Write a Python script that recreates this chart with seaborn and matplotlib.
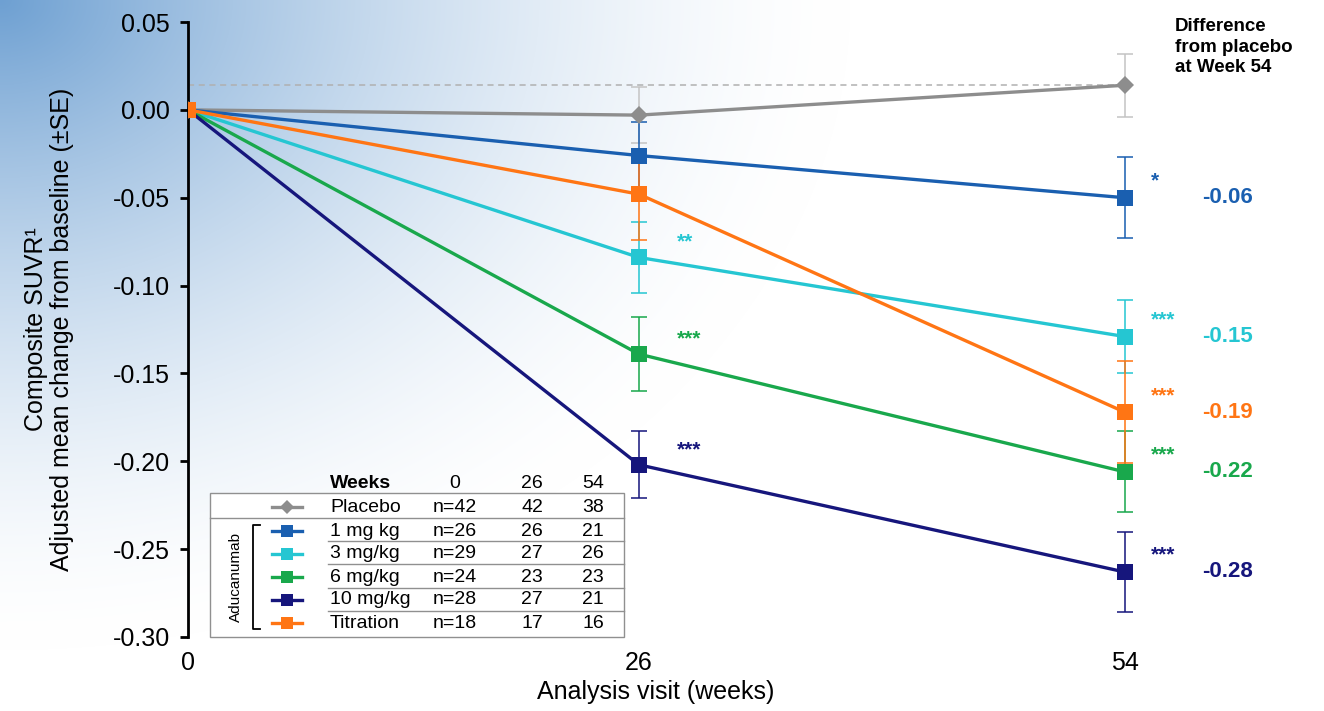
import numpy as np
import pandas as pd
import matplotlib
matplotlib.use("Agg")
import matplotlib.pyplot as plt
import seaborn as sns
from matplotlib.lines import Line2D
from matplotlib.patches import Rectangle

# ---------------- data ----------------
weeks = [0, 26, 54]
groups = ["Placebo", "1 mg kg", "3 mg/kg", "6 mg/kg", "10 mg/kg", "Titration"]
mean_placebo = [0.0, -0.003, 0.014]
mean_1mg = [0.0, -0.026, -0.050]
mean_3mg = [0.0, -0.084, -0.129]
mean_6mg = [0.0, -0.139, -0.206]
mean_10mg = [0.0, -0.202, -0.263]
mean_titr = [0.0, -0.048, -0.172]
se_placebo = [0.0, 0.016, 0.018]
se_1mg = [0.0, 0.019, 0.023]
se_3mg = [0.0, 0.020, 0.021]
se_6mg = [0.0, 0.021, 0.023]
se_10mg = [0.0, 0.019, 0.023]
se_titr = [0.0, 0.026, 0.029]
stars_26 = ["", "", "**", "***", "***", ""]
stars_54 = ["", "*", "***", "***", "***", "***"]
diff_54 = ["", "-0.06", "-0.15", "-0.22", "-0.28", "-0.19"]
n_week0 = ["n=42", "n=26", "n=29", "n=24", "n=28", "n=18"]
n_week26 = ["42", "26", "27", "23", "27", "17"]
n_week54 = ["38", "21", "26", "23", "21", "16"]
yticks = [0.05, 0.00, -0.05, -0.10, -0.15, -0.20, -0.25, -0.30]

means = [mean_placebo, mean_1mg, mean_3mg, mean_6mg, mean_10mg, mean_titr]
ses = [se_placebo, se_1mg, se_3mg, se_6mg, se_10mg, se_titr]
colors = ["#8d8d8d", "#1a5fb0", "#25c6d2", "#19a84c", "#16167c", "#ff7514"]
markers = ["D", "s", "s", "s", "s", "s"]

rows = []
for g, m, s in zip(groups, means, ses):
    for w, mv, sv in zip(weeks, m, s):
        rows.append({"group": g, "week": w, "mean": mv, "se": sv})
df = pd.DataFrame(rows)

# ---------------- figure ----------------
W, H = 1324, 711
fig = plt.figure(figsize=(W / 100, H / 100), dpi=100)
plt.rcParams["font.family"] = ["Liberation Sans", "DejaVu Sans"]

def P(x, y):
    return (x / W, 1 - y / H)

# background gradient (top-left corner)
bg = fig.add_axes([0, 0, 1, 1], zorder=-10)
yy, xx = np.mgrid[0:H, 0:W]
r = np.sqrt((xx / 850.0) ** 2 + (yy / 650.0) ** 2)
a = np.clip(1 - r, 0, 1) ** 1.6
base = np.array([110, 160, 210]) / 255.0
img = np.ones((H, W, 3)) * (1 - a[..., None]) + base * a[..., None]
bg.imshow(img, aspect="auto", extent=[0, W, H, 0])
bg.axis("off")

x0, x1 = 188, 1194
ax = fig.add_axes([x0 / W, 1 - 637 / H, (x1 - x0) / W, (637 - 22) / H])
ax.patch.set_alpha(0)

pal = dict(zip(groups, colors))
mk = dict(zip(groups, markers))
sizes = {g: (9 if g == "Placebo" else 12) for g in groups}

# error bars
for g, m, s, c in zip(groups, means, ses, colors):
    ecol = "#c4c4c4" if g == "Placebo" else c
    ax.errorbar(weeks[1:], m[1:], yerr=s[1:], fmt="none", ecolor=ecol,
                elinewidth=1.3, capsize=6, capthick=1.3, alpha=0.85, zorder=2)

for g in groups:
    sub = df[df.group == g]
    sns.lineplot(data=sub, x="week", y="mean", color=pal[g], marker=mk[g],
                 markersize=sizes[g], markeredgewidth=0, linewidth=2.4,
                 ax=ax, legend=False, zorder=3, errorbar=None)

# dashed reference line at placebo week 54
ax.plot([weeks[0], weeks[2]], [mean_placebo[2], mean_placebo[2]], ls=(0, (4, 3)),
        color="#b0b0b0", lw=1.1, zorder=1)

ax.set_xlim(0, 58)
ax.set_ylim(-0.30, 0.05)
ax.set_yticks(yticks)
ax.set_yticklabels([f"{t:.2f}" for t in yticks], fontsize=18)
ax.set_xticks(weeks)
ax.set_xticklabels([str(w) for w in weeks], fontsize=18)
for sp in ["top", "right", "bottom"]:
    ax.spines[sp].set_visible(False)
ax.spines["left"].set_linewidth(2)
ax.tick_params(axis="y", length=6, width=2, pad=7)
ax.tick_params(axis="x", length=0, pad=10)
ax.set_xlabel("Analysis visit (weeks)", fontsize=18)
ax.xaxis.set_label_coords((656 - x0) / (x1 - x0), -0.07)
ax.set_ylabel("Composite SUVR\u00b9\nAdjusted mean change from baseline (\u00b1SE)",
              fontsize=18, linespacing=1.1)
ax.yaxis.set_label_coords(-0.113, 0.5)

# significance stars and differences
for i, (g, c) in enumerate(zip(groups, colors)):
    if stars_26[i]:
        ax.annotate(stars_26[i], (weeks[1], means[i][1]), xytext=(27, 7),
                    textcoords="offset points", color=c, fontsize=15,
                    fontweight="bold", va="baseline", ha="left")
    if stars_54[i]:
        ax.annotate(stars_54[i], (weeks[2], means[i][2]), xytext=(19, 8),
                    textcoords="offset points", color=c, fontsize=15,
                    fontweight="bold", va="baseline", ha="left")
    if diff_54[i]:
        ax.annotate(diff_54[i], (weeks[2], means[i][2]), xytext=(56, 0),
                    textcoords="offset points", color=c, fontsize=16,
                    fontweight="bold", va="center", ha="left", annotation_clip=False)

fig.text(*P(1175, 47), "Difference\nfrom placebo\nat Week 54", fontsize=13.5,
         fontweight="bold", va="center", ha="left", linespacing=1.3)

# ---------------- table legend ----------------
fs = 14
fig.text(*P(330, 483), "Weeks", fontsize=fs, fontweight="bold", va="center", ha="left")
for xx_, lab in zip([455, 532, 593], [str(w) for w in weeks]):
    fig.text(*P(xx_, 483), lab, fontsize=fs, va="center", ha="center")

bx0, by0 = P(210, 637)
bx1, by1 = P(624, 493)
fig.patches.append(Rectangle((bx0, by0), bx1 - bx0, by1 - by0, transform=fig.transFigure,
                             facecolor="white", edgecolor="#909090", lw=1.0, zorder=5))
fig.lines.append(Line2D([P(210, 0)[0], P(624, 0)[0]], [P(0, 518)[1]] * 2,
                        transform=fig.transFigure, color="#909090", lw=1.0, zorder=6))
for ysep in [541, 564, 588, 611]:
    fig.lines.append(Line2D([P(328, 0)[0], P(624, 0)[0]], [P(0, ysep)[1]] * 2,
                            transform=fig.transFigure, color="#909090", lw=1.0, zorder=6))

row_y = [507, 531, 554, 577, 600, 623]
for i, g in enumerate(groups):
    yv = row_y[i]
    fig.lines.append(Line2D([P(272, 0)[0], P(302, 0)[0]], [P(0, yv)[1]] * 2,
                            transform=fig.transFigure, color=colors[i], lw=2.4, zorder=7))
    fig.lines.append(Line2D([P(287, 0)[0]], [P(0, yv)[1]], transform=fig.transFigure,
                            color=colors[i], marker=markers[i], ls="none",
                            markersize=(7 if i == 0 else 9), markeredgewidth=0, zorder=8))
    fig.text(*P(330, yv), g, fontsize=fs, va="center", ha="left", zorder=8)
    fig.text(*P(455, yv), n_week0[i], fontsize=fs, va="center", ha="center", zorder=8)
    fig.text(*P(532, yv), n_week26[i], fontsize=fs, va="center", ha="center", zorder=8)
    fig.text(*P(593, yv), n_week54[i], fontsize=fs, va="center", ha="center", zorder=8)

# bracket
bxl = P(253, 0)[0]
bxr = P(260, 0)[0]
ytop = P(0, 525)[1]
ybot = P(0, 629)[1]
fig.lines.append(Line2D([bxr, bxl, bxl, bxr], [ytop, ytop, ybot, ybot],
                        transform=fig.transFigure, color="black", lw=1.3, zorder=7))
fig.text(*P(236, 577), "Aducanumab", fontsize=11, rotation=90, va="center",
         ha="center", zorder=8)

fig.savefig("out.png", dpi=100)
